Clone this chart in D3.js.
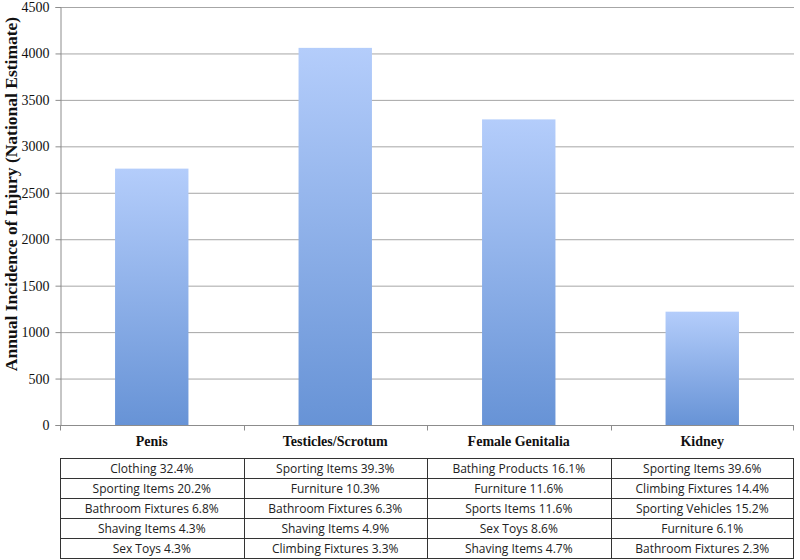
<!DOCTYPE html>
<html>
<head>
<meta charset="utf-8">
<script src="https://cdn.jsdelivr.net/npm/d3@7"></script>
<style>
  body { margin: 0; background: #fff; }
</style>
</head>
<body>
<div id="chart"></div>
<script>
var categories = ["Penis", "Testicles/Scrotum", "Female Genitalia", "Kidney"];
var incidence = [2760, 4060, 3290, 1220];
var yTicks = [0, 500, 1000, 1500, 2000, 2500, 3000, 3500, 4000, 4500];

// one column per category, five rows each
var causesPenis = ["Clothing 32.4%", "Sporting Items 20.2%", "Bathroom Fixtures 6.8%", "Shaving Items 4.3%", "Sex Toys 4.3%"];
var causesTesticles = ["Sporting Items 39.3%", "Furniture 10.3%", "Bathroom Fixtures 6.3%", "Shaving Items 4.9%", "Climbing Fixtures 3.3%"];
var causesFemale = ["Bathing Products 16.1%", "Furniture 11.6%", "Sports Items 11.6%", "Sex Toys 8.6%", "Shaving Items 4.7%"];
var causesKidney = ["Sporting Items 39.6%", "Climbing Fixtures 14.4%", "Sporting Vehicles 15.2%", "Furniture 6.1%", "Bathroom Fixtures 2.3%"];
var causeColumns = [causesPenis, causesTesticles, causesFemale, causesKidney];

var svgWidth = 800;
var svgHeight = 560;

var margin = { top: 7, right: 6, bottom: 135, left: 60 };
var width = svgWidth - margin.left - margin.right;
var height = svgHeight - margin.top - margin.bottom;

var svg = d3.select("#chart")
  .append("svg")
  .attr("width", svgWidth)
  .attr("height", svgHeight);

var defs = svg.append("defs");
var grad = defs.append("linearGradient")
  .attr("id", "barGrad")
  .attr("x1", 0).attr("y1", 0)
  .attr("x2", 0).attr("y2", 1);
grad.append("stop").attr("offset", "0%").attr("stop-color", "#b4cdfb");
grad.append("stop").attr("offset", "100%").attr("stop-color", "#6793d6");

var chartGroup = svg.append("g")
  .attr("transform", `translate(${margin.left}, ${margin.top})`);

var xScale = d3.scaleBand()
  .domain(categories)
  .range([0, width])
  .paddingInner(0.6)
  .paddingOuter(0.3);

var xBand = d3.scaleBand()
  .domain(categories)
  .range([0, width]);

var yScale = d3.scaleLinear()
  .domain([0, 4500])
  .range([height, 0]);

// gridlines
chartGroup.append("g")
  .selectAll("line")
  .data(yTicks.slice(1))
  .enter()
  .append("line")
  .attr("x1", 0)
  .attr("x2", width)
  .attr("y1", d => yScale(d) + 0.5)
  .attr("y2", d => yScale(d) + 0.5)
  .attr("stroke", "#a6a6a6")
  .attr("stroke-width", 1);

// bars
chartGroup.selectAll("rect.bar")
  .data(categories)
  .enter()
  .append("rect")
  .attr("class", "bar")
  .attr("x", d => xScale(d))
  .attr("width", xScale.bandwidth())
  .attr("y", (d, i) => yScale(incidence[i]))
  .attr("height", (d, i) => height - yScale(incidence[i]))
  .attr("fill", "url(#barGrad)");

// y axis
var leftAxis = d3.axisLeft(yScale)
  .tickValues(yTicks)
  .tickFormat(d3.format("d"))
  .tickSize(5)
  .tickPadding(6);

var yAxisG = chartGroup.append("g")
  .attr("transform", "translate(0.5,0)")
  .call(leftAxis);
yAxisG.select(".domain").attr("stroke", "#8c8c8c");
yAxisG.selectAll(".tick line").attr("stroke", "#8c8c8c");
yAxisG.selectAll(".tick text")
  .attr("font-family", "'Liberation Serif', 'Times New Roman', serif")
  .attr("font-size", "14px")
  .attr("fill", "#111");

// x axis: ticks at band boundaries
var xAxisG = chartGroup.append("g")
  .attr("transform", `translate(0, ${height + 0.5})`);
xAxisG.append("line")
  .attr("x1", 0).attr("x2", width)
  .attr("stroke", "#8c8c8c");
xAxisG.selectAll("line.sep")
  .data(categories)
  .enter()
  .append("line")
  .attr("class", "sep")
  .attr("x1", d => Math.round(xBand(d)) + 0.5)
  .attr("x2", d => Math.round(xBand(d)) + 0.5)
  .attr("y1", 0)
  .attr("y2", 5)
  .attr("stroke", "#8c8c8c");
xAxisG.append("line")
  .attr("x1", width - 0.5).attr("x2", width - 0.5)
  .attr("y1", 0).attr("y2", 5)
  .attr("stroke", "#8c8c8c");

xAxisG.selectAll("text")
  .data(categories)
  .enter()
  .append("text")
  .attr("x", d => xBand(d) + xBand.bandwidth() / 2)
  .attr("y", 20)
  .attr("text-anchor", "middle")
  .attr("font-family", "'Liberation Serif', 'Times New Roman', serif")
  .attr("font-weight", "bold")
  .attr("font-size", "14px")
  .attr("fill", "#111")
  .text(d => d);

// y axis title
chartGroup.append("text")
  .attr("transform", "rotate(-90)")
  .attr("x", -187)
  .attr("y", 0 - margin.left + 17)
  .attr("text-anchor", "middle")
  .attr("font-family", "'Liberation Serif', 'Times New Roman', serif")
  .attr("font-weight", "bold")
  .attr("font-size", "17.5px")
  .attr("fill", "#111")
  .text("Annual Incidence of Injury (National Estimate)");

// table of causes
var tableTop = height + 33;
var rowH = 20;
var tableG = chartGroup.append("g")
  .attr("transform", `translate(0, ${tableTop})`);

tableG.append("rect")
  .attr("x", 0.5).attr("y", 0.5)
  .attr("width", width - 1)
  .attr("height", rowH * 5)
  .attr("fill", "none")
  .attr("stroke", "#333");

d3.range(1, 5).forEach(function (r) {
  tableG.append("line")
    .attr("x1", 0).attr("x2", width)
    .attr("y1", r * rowH + 0.5).attr("y2", r * rowH + 0.5)
    .attr("stroke", "#333");
});

categories.slice(1).forEach(function (c) {
  tableG.append("line")
    .attr("x1", Math.round(xBand(c)) + 0.5)
    .attr("x2", Math.round(xBand(c)) + 0.5)
    .attr("y1", 0).attr("y2", rowH * 5)
    .attr("stroke", "#333");
});

causeColumns.forEach(function (col, ci) {
  tableG.selectAll("text.c" + ci)
    .data(col)
    .enter()
    .append("text")
    .attr("class", "c" + ci)
    .attr("x", xBand(categories[ci]) + xBand.bandwidth() / 2)
    .attr("y", (d, i) => i * rowH + 15)
    .attr("text-anchor", "middle")
    .attr("font-family", "'Open Sans', 'Noto Sans', sans-serif")
    .attr("font-size", "12px")
    .attr("fill", "#222")
    .text(d => d);
});
</script>
</body>
</html>
